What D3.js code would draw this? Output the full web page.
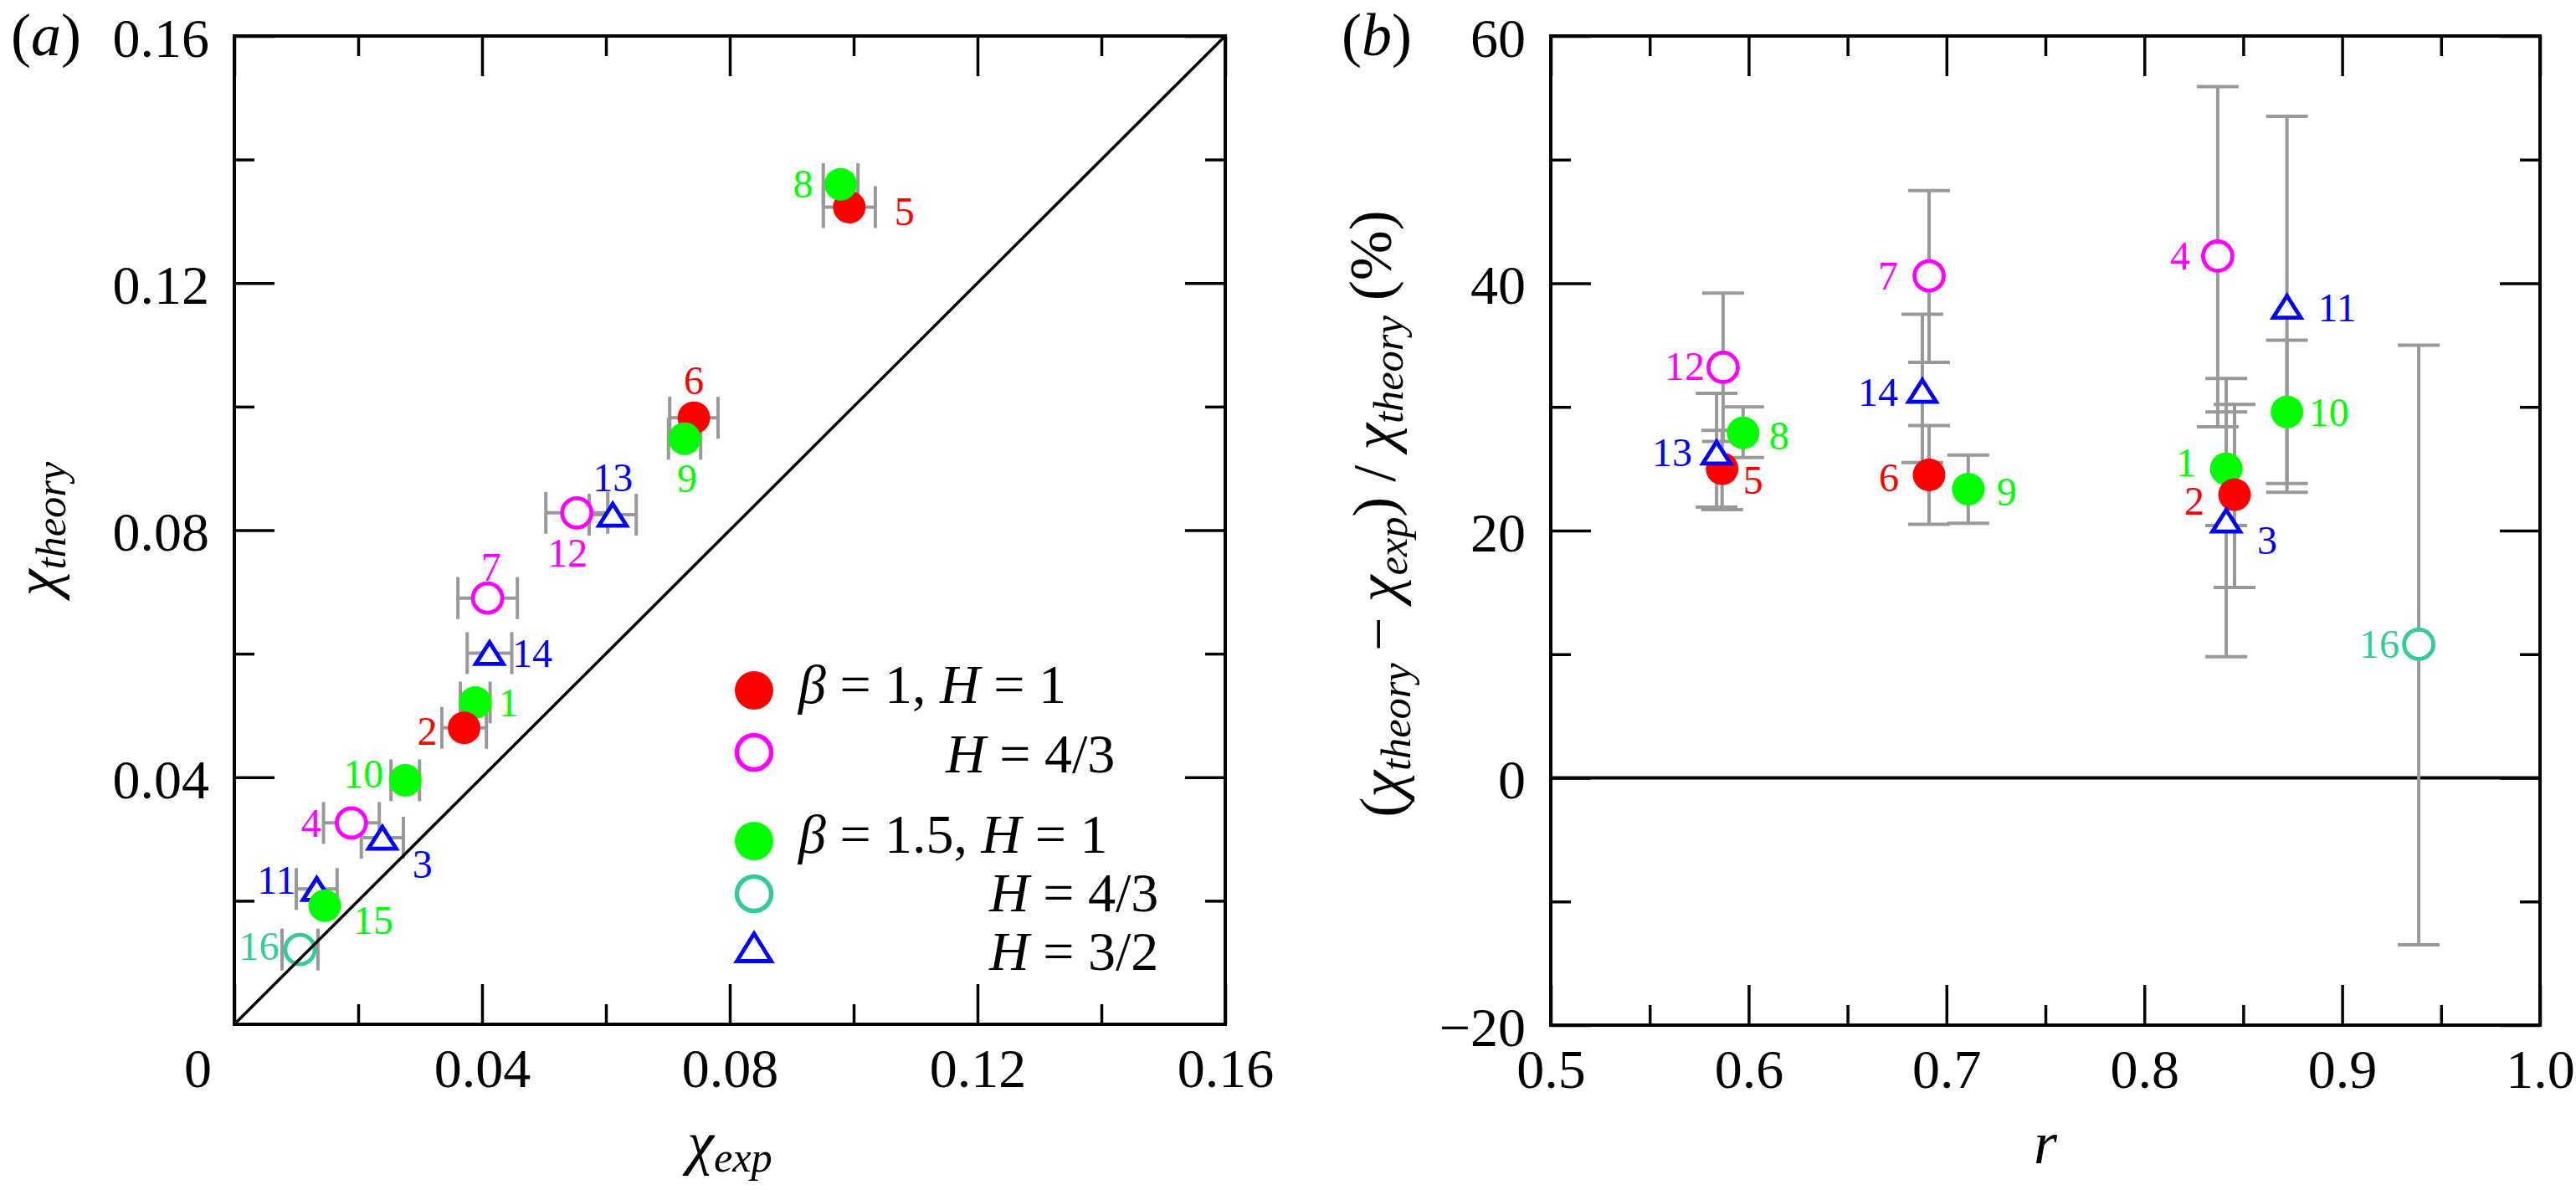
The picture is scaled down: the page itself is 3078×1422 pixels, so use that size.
<!DOCTYPE html>
<html>
<head>
<meta charset="utf-8">
<script src="https://cdn.jsdelivr.net/npm/d3@7"></script>
<style>
  html, body { margin: 0; padding: 0; background: #fff; }
  svg { display: block; }
  svg text { font-family: 'Liberation Serif', 'Times New Roman', serif; }
</style>
</head>
<body>
<svg id="chart" width="3078" height="1422"></svg>
<script>
(function (d3) {

	// ---- data ----
	var runIds = [1, 2, 3, 4, 5, 6, 7, 8, 9, 10, 11, 12, 13, 14, 15, 16];
	var runGroup = ['b15h1', 'b1h1', 'b15h32', 'b1h43', 'b1h1', 'b1h1', 'b1h43', 'b15h1',
		'b15h1', 'b15h1', 'b15h32', 'b1h43', 'b15h32', 'b15h32', 'b15h1', 'b15h43'];

	// panel (a)
	var chiExp    = [0.0389, 0.0371, 0.0239, 0.0189, 0.0993, 0.0742, 0.0409, 0.0979,
		0.0727, 0.0276, 0.0133, 0.0553, 0.0611, 0.0412, 0.0146, 0.0106];
	var chiExpErr = [0.0024, 0.0036, 0.0034, 0.0045, 0.0042, 0.0039, 0.0048, 0.0028,
		0.0026, 0.0023, 0.0033, 0.0050, 0.0038, 0.0036, null, 0.0029];
	var chiTheory = [0.0521, 0.0480, 0.0302, 0.0326, 0.1323, 0.0982, 0.0690, 0.1360,
		0.0948, 0.0395, 0.0219, 0.0828, 0.0825, 0.0601, 0.0192, 0.0121];

	// panel (b)  (run 15 is not shown)
	var ratioR  = [0.8414, 0.8456, 0.8414, 0.8371, 0.5866, 0.6912, 0.6912, 0.5972,
		0.7110, 0.8721, 0.8721, 0.5871, 0.5838, 0.6878, null, 0.9387];
	var relDiff = [25.0, 22.9, 20.8, 42.2, 25.0, 24.5, 40.6, 27.9,
		23.35, 29.6, 38.1, 33.2, 26.3, 31.3, null, 10.8];
	var relLow  = [20.4, 15.4, 9.8, 28.4, 21.7, 20.5, 33.6, 25.9,
		20.6, 23.8, 23.1, 27.2, 21.9, 25.5, null, -13.5];
	var relHigh = [29.6, 30.2, 32.3, 55.9, 28.1, 28.5, 47.5, 30.0,
		26.1, 35.4, 53.5, 39.2, 31.1, 37.5, null, 35.0];

	// ticks
	var aMajor = [0, 0.04, 0.08, 0.12, 0.16];
	var aMinor = [0.02, 0.06, 0.10, 0.14];
	var bxMajor = [0.5, 0.6, 0.7, 0.8, 0.9, 1.0];
	var bxMinor = [0.55, 0.65, 0.75, 0.85, 0.95];
	var byMajor = [-20, 0, 20, 40, 60];
	var byMinor = [-10, 10, 30, 50];

	// legend
	var legendGroups = ['b1h1', 'b1h43', 'b15h1', 'b15h43', 'b15h32'];
	var legendLabels = ['β = 1, H = 1', 'H = 4/3', 'β = 1.5, H = 1', 'H = 4/3', 'H = 3/2'];

	// ---- styles / placement ----
	var COLOR = { b1h1: '#ff0000', b1h43: '#ff00ff', b15h1: '#00ff00', b15h43: '#33cc99', b15h32: '#0000ff' };
	var SHAPE = { b1h1: 'disc', b1h43: 'ring', b15h1: 'disc', b15h43: 'ring', b15h32: 'tri' };
	var GREY = '#999999';
	var TICK_FS = 66, LABEL_FS = 72, NUM_FS = 48;

	// where each run number sits relative to its marker (px)
	var offA = { 1: [40, 0], 2: [-44, 4], 3: [48, 32], 4: [-48, 0], 5: [66, 5], 6: [0, -44],
		7: [4, -37], 8: [-45, 0], 9: [3, 47], 10: [-50, -8], 11: [-48, -11], 12: [-11, 48],
		13: [0, -44], 14: [51, 0], 15: [58, 17], 16: [-49, -4] };
	var offB = { 1: [-48, -7], 2: [-48, 8], 3: [49, 23], 4: [-45, 0], 5: [37, 14], 6: [-48, 3],
		7: [-49, 0], 8: [43, 3], 9: [46, 3], 10: [50, 1], 11: [60, 1], 12: [-46, -1],
		13: [-53, 0], 14: [-53, 2], 16: [-47, 0] };

	var runs = runIds.map(function (id, i) {
		return {
			id: id, group: runGroup[i],
			xe: chiExp[i], xeErr: chiExpErr[i], xt: chiTheory[i],
			r: ratioR[i], rel: relDiff[i], lo: relLow[i], hi: relHigh[i]
		};
	});

	var svg = d3.select('#chart');

	var xa = d3.scaleLinear().domain([0, 0.16]).range([280, 1464]);
	var ya = d3.scaleLinear().domain([0, 0.16]).range([1224, 43]);
	var xb = d3.scaleLinear().domain([0.5, 1.0]).range([1853, 3035]);
	var yb = d3.scaleLinear().domain([-20, 60]).range([1225, 43]);

	function noLabel() { return ''; }

	function drawAxes(g, x, y, spec) {
		var left = x.range()[0], right = x.range()[1];
		var bottom = y.range()[0], top = y.range()[1];

		function side(axisFn, scale, values, len, transform, fmt, pad) {
			var axis = axisFn(scale).tickValues(values).tickSize(-len).tickSizeOuter(0)
				.tickPadding(pad || 0).tickFormat(fmt || noLabel);
			var s = g.append('g').attr('transform', transform).call(axis);
			s.attr('font-family', null).attr('font-size', TICK_FS);
			s.select('.domain').remove();
			s.selectAll('.tick line').attr('stroke', '#000').attr('stroke-width', 3.5);
			s.selectAll('.tick text').attr('fill', '#000');
			return s;
		}

		var bx = side(d3.axisBottom, x, spec.xMajor, 48, 'translate(0,' + bottom + ')', spec.fmtX, 28);
		side(d3.axisBottom, x, spec.xMinor, 24, 'translate(0,' + bottom + ')');
		side(d3.axisTop, x, spec.xMajor, 48, 'translate(0,' + top + ')');
		side(d3.axisTop, x, spec.xMinor, 24, 'translate(0,' + top + ')');
		var ly = side(d3.axisLeft, y, spec.yMajor, 48, 'translate(' + left + ',0)', spec.fmtY, 30);
		side(d3.axisLeft, y, spec.yMinor, 24, 'translate(' + left + ',0)');
		side(d3.axisRight, y, spec.yMajor, 48, 'translate(' + right + ',0)');
		side(d3.axisRight, y, spec.yMinor, 24, 'translate(' + right + ',0)');
		ly.selectAll('.tick text').attr('dy', '0.37em');

		g.append('rect')
			.attr('x', left).attr('y', top)
			.attr('width', right - left).attr('height', bottom - top)
			.attr('fill', 'none').attr('stroke', '#000').attr('stroke-width', 4);
		return bx;
	}

	// text with italic letters and subscripts: parts = [[text, 'r'|'i'|'sub'], ...]
	function mathText(t, parts) {
		var shifted = false;
		parts.forEach(function (p) {
			var ts = t.append('tspan').text(p[0]);
			if (p[1] === 'i' || p[1] === 'sub') ts.attr('font-style', 'italic');
			if (p[1] === 'sub') {
				ts.attr('font-size', '0.7em');
				if (!shifted) { ts.attr('dy', '0.2em'); shifted = true; }
			} else if (shifted) {
				ts.attr('dy', '-0.2em'); shifted = false;
			}
		});
		return t;
	}

	function marker(sel, group, big) {
		var shape = SHAPE[group], c = COLOR[group];
		if (shape === 'disc') {
			sel.append('circle').attr('r', big ? 23 : 19.5).attr('fill', c);
		} else if (shape === 'ring') {
			sel.append('circle').attr('r', big ? 20.5 : 17.5)
				.attr('fill', '#fff').attr('stroke', c).attr('stroke-width', big ? 5.5 : 4.8);
		} else {
			var a = big ? 20.5 : 16.5, h = big ? 33 : 26;
			sel.append('path')
				.attr('d', 'M0,' + (-h / 2) + 'L' + a + ',' + (h / 2) + 'L' + (-a) + ',' + (h / 2) + 'Z')
				.attr('fill', '#fff').attr('stroke', c).attr('stroke-width', 4.8)
				.attr('stroke-linejoin', 'miter');
		}
	}

	function runNumbers(g, data, px, py, offsets) {
		g.append('g').attr('font-size', NUM_FS)
			.selectAll('text').data(data).join('text')
			.attr('x', function (d) { return px(d) + offsets[d.id][0]; })
			.attr('y', function (d) { return py(d) + offsets[d.id][1]; })
			.attr('dy', '0.34em')
			.attr('text-anchor', 'middle')
			.attr('fill', function (d) { return COLOR[d.group]; })
			.text(function (d) { return d.id; });
	}

	// ================= panel (a) =================
	var ga = svg.append('g').attr('class', 'panel-a');
	var fmt2 = d3.format('.2f');
	var bottomA = drawAxes(ga, xa, ya, {
		xMajor: aMajor, xMinor: aMinor, yMajor: aMajor.slice(1), yMinor: aMinor,
		fmtX: function (d) { return d === 0 ? '0' : fmt2(d); },
		fmtY: fmt2
	});
	// the shared origin label sits left of the corner
	bottomA.selectAll('.tick text').filter(function (d) { return d === 0; }).attr('dx', -44);

	var withErrA = runs.filter(function (d) { return d.xeErr != null; });
	var ebA = ga.append('g').attr('stroke', GREY).attr('stroke-width', 4).attr('fill', 'none');
	withErrA.forEach(function (d) {
		var y = ya(d.xt), x0 = xa(d.xe - d.xeErr), x1 = xa(d.xe + d.xeErr);
		ebA.append('line').attr('x1', x0).attr('x2', x1).attr('y1', y).attr('y2', y);
		ebA.append('line').attr('x1', x0).attr('x2', x0).attr('y1', y - 25).attr('y2', y + 25);
		ebA.append('line').attr('x1', x1).attr('x2', x1).attr('y1', y - 25).attr('y2', y + 25);
	});

	ga.append('g').selectAll('g').data(runs).join('g')
		.attr('transform', function (d) { return 'translate(' + xa(d.xe) + ',' + ya(d.xt) + ')'; })
		.each(function (d) { marker(d3.select(this), d.group, false); });

	ga.append('line')
		.attr('x1', xa(0)).attr('y1', ya(0)).attr('x2', xa(0.16)).attr('y2', ya(0.16))
		.attr('stroke', '#000').attr('stroke-width', 3.5);

	runNumbers(ga, runs, function (d) { return xa(d.xe); }, function (d) { return ya(d.xt); }, offA);

	// legend
	var legRowY = [825, 899, 1005, 1068, 1132];
	var legTextX = [954, 1130, 954, 1182, 1182];
	var legTextY = [840, 923, 1019, 1089, 1159];
	var leg = ga.append('g').attr('class', 'legend');
	legendGroups.forEach(function (grp, i) {
		marker(leg.append('g').attr('transform', 'translate(901,' + legRowY[i] + ')'), grp, true);
		var t = leg.append('text').attr('x', legTextX[i]).attr('y', legTextY[i])
			.attr('font-size', 66).attr('fill', '#000');
		mathText(t, legendLabels[i].split(/([βH])/).filter(Boolean).map(function (s) {
			return [s, /^[βH]$/.test(s) ? 'i' : 'r'];
		}));
	});

	// axis titles
	mathText(ga.append('text').attr('transform', 'translate(68,632) rotate(-90)')
		.attr('text-anchor', 'middle').attr('font-size', LABEL_FS),
		[['χ', 'i'], ['theory', 'sub']]);
	mathText(ga.append('text').attr('x', 872).attr('y', 1390)
		.attr('text-anchor', 'middle').attr('font-size', LABEL_FS),
		[['χ', 'i'], ['exp', 'sub']]);
	mathText(ga.append('text').attr('x', 13).attr('y', 66).attr('font-size', LABEL_FS),
		[['(', 'r'], ['a', 'i'], [')', 'r']]);

	// ================= panel (b) =================
	var gb = svg.append('g').attr('class', 'panel-b');
	drawAxes(gb, xb, yb, {
		xMajor: bxMajor, xMinor: bxMinor, yMajor: byMajor, yMinor: byMinor,
		fmtX: d3.format('.1f'), fmtY: d3.format('d')
	});

	gb.append('line')
		.attr('x1', xb(0.5)).attr('x2', xb(1.0)).attr('y1', yb(0)).attr('y2', yb(0))
		.attr('stroke', '#000').attr('stroke-width', 4);

	var shownB = runs.filter(function (d) { return d.r != null; });
	var ebB = gb.append('g').attr('stroke', GREY).attr('stroke-width', 4).attr('fill', 'none');
	shownB.forEach(function (d) {
		var x = xb(d.r), y0 = yb(d.lo), y1 = yb(d.hi);
		ebB.append('line').attr('x1', x).attr('x2', x).attr('y1', y0).attr('y2', y1);
		ebB.append('line').attr('x1', x - 25).attr('x2', x + 25).attr('y1', y0).attr('y2', y0);
		ebB.append('line').attr('x1', x - 25).attr('x2', x + 25).attr('y1', y1).attr('y2', y1);
	});

	gb.append('g').selectAll('g').data(shownB).join('g')
		.attr('transform', function (d) { return 'translate(' + xb(d.r) + ',' + yb(d.rel) + ')'; })
		.each(function (d) { marker(d3.select(this), d.group, false); });

	runNumbers(gb, shownB, function (d) { return xb(d.r); }, function (d) { return yb(d.rel); }, offB);

	mathText(gb.append('text').attr('transform', 'translate(1675,614) rotate(-90)')
		.attr('text-anchor', 'middle').attr('font-size', LABEL_FS),
		[['(', 'r'], ['χ', 'i'], ['theory', 'sub'], ['\u2009\u2212 ', 'r'], ['χ', 'i'], ['exp', 'sub'],
			[') / ', 'r'], ['χ', 'i'], ['theory', 'sub'], [' (%)', 'r']]);
	mathText(gb.append('text').attr('x', 2444).attr('y', 1390)
		.attr('text-anchor', 'middle').attr('font-size', LABEL_FS),
		[['r', 'i']]);
	mathText(gb.append('text').attr('x', 1603).attr('y', 66).attr('font-size', LABEL_FS),
		[['(', 'r'], ['b', 'i'], [')', 'r']]);

}(d3));
</script>
</body>
</html>
